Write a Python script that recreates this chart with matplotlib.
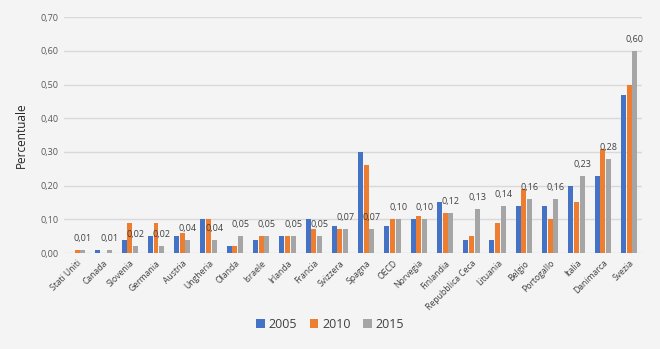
import numpy as np
import matplotlib.pyplot as plt

# Paesi e valori (percentuale) per anno
paesi = ["Stati Uniti", "Canada", "Slovenia", "Germania", "Austria", "Ungheria",
         "Olanda", "Israele", "Irlanda", "Francia", "Svizzera", "Spagna", "OECD",
         "Norvegia", "Finlandia", "Repubblica Ceca", "Lituania", "Belgio",
         "Portogallo", "Italia", "Danimarca", "Svezia"]
v2005 = [0.00, 0.01, 0.04, 0.05, 0.05, 0.10, 0.02, 0.04, 0.05, 0.10, 0.08,
         0.30, 0.08, 0.10, 0.15, 0.04, 0.04, 0.14, 0.14, 0.20, 0.23, 0.47]
v2010 = [0.01, 0.00, 0.09, 0.09, 0.06, 0.10, 0.02, 0.05, 0.05, 0.07, 0.07,
         0.26, 0.10, 0.11, 0.12, 0.05, 0.09, 0.19, 0.10, 0.15, 0.31, 0.50]
v2015 = [0.01, 0.01, 0.02, 0.02, 0.04, 0.04, 0.05, 0.05, 0.05, 0.05, 0.07,
         0.07, 0.10, 0.10, 0.12, 0.13, 0.14, 0.16, 0.16, 0.23, 0.28, 0.60]
anni = ["2005", "2010", "2015"]
colori = ["#4472C4", "#ED7D31", "#A5A5A5"]

plt.rcParams['font.family'] = ['Open Sans', 'DejaVu Sans']
bg = "#F4F4F4"

fig = plt.figure(figsize=(6.6, 3.49), dpi=100, facecolor=bg)
ax = fig.add_axes([0.097, 0.275, 0.876, 0.676], facecolor=bg)

x = np.arange(len(paesi))
w = 0.19
step = 0.215
for i, (vals, lab, col) in enumerate(zip([v2005, v2010, v2015], anni, colori)):
    ax.bar(x + (i - 1) * step, vals, width=w, color=col, label=lab, zorder=3)

# etichette sopra le barre del 2015
for xi, v in zip(x, v2015):
    ax.annotate("{:.2f}".format(v).replace(".", ","), (xi + step, v),
                xytext=(0, 5), textcoords="offset points", ha="center",
                va="bottom", fontsize=6.5, color="#404040")

ax.set_xlim(-0.5, len(paesi) - 0.5)
ax.set_ylim(0, 0.70)
yt = np.arange(0, 0.71, 0.10)
ax.set_yticks(yt)
ax.set_yticklabels(["{:.2f}".format(t).replace(".", ",") for t in yt],
                   fontsize=6.5, color="#595959")
ax.set_xticks(x)
ax.set_xticklabels(paesi, rotation=45, ha="right", rotation_mode="anchor",
                   fontsize=6.2, color="#404040")
ax.tick_params(length=0, pad=4)
ax.grid(axis="y", color="#D9D9D9", linewidth=1, zorder=0)
for s in ax.spines.values():
    s.set_visible(False)
ax.set_ylabel("Percentuale", fontsize=8.5, color="#262626", labelpad=9)

fig.legend(loc="lower center", bbox_to_anchor=(0.5, 0.02), ncol=3,
           frameon=False, fontsize=9, handlelength=0.7, handleheight=0.7,
           handletextpad=0.3, columnspacing=1.0, labelcolor="#404040")

fig.savefig("out.png", dpi=100, facecolor=bg)
